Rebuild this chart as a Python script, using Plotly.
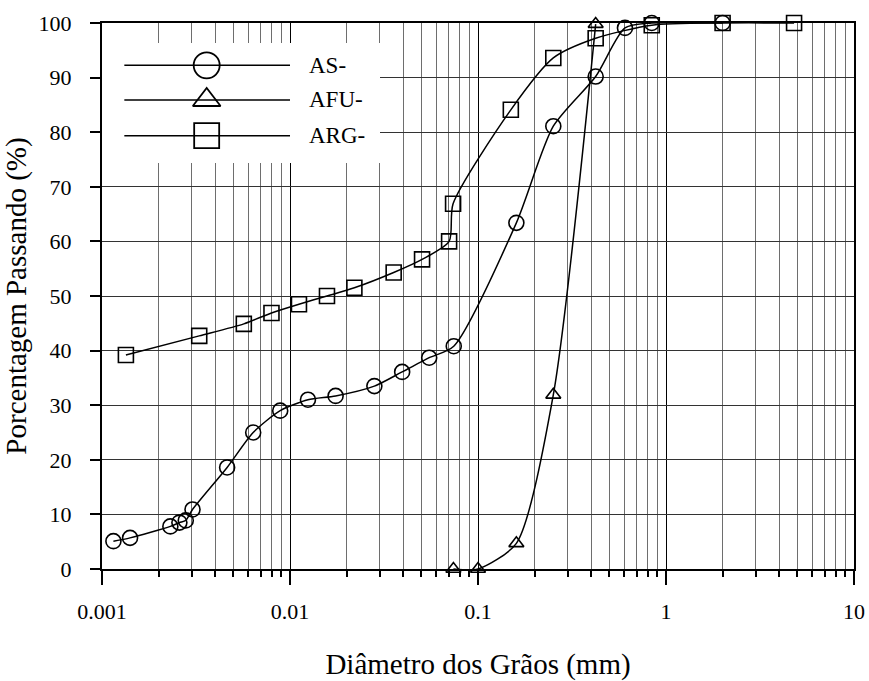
import plotly.graph_objects as go

# ---- data ----
AS_x = [0.00115, 0.00141, 0.00231, 0.00258, 0.00279, 0.00303, 0.00463, 0.00637, 0.00887,
        0.01246, 0.01748, 0.0281, 0.0395, 0.0550, 0.0743, 0.160, 0.2515, 0.4226, 0.605, 0.84, 2.0]
AS_y = [5.1, 5.7, 7.8, 8.5, 8.9, 10.9, 18.6, 25.0, 29.0, 31.0, 31.7, 33.5, 36.1, 38.7, 40.8,
        63.4, 81.1, 90.2, 99.1, 100, 100]

AFU_x = [0.074, 0.1, 0.16, 0.2515, 0.4226]
AFU_y = [0, 0, 4.7, 31.9, 99.8]

ARG_x = [0.00134, 0.00329, 0.00568, 0.00797, 0.01116, 0.01573, 0.022, 0.0356, 0.0504, 0.0702,
         0.0737, 0.1495, 0.2515, 0.4226, 0.84, 2.0, 4.8]
ARG_y = [39.2, 42.7, 44.9, 46.9, 48.5, 50.0, 51.5, 54.3, 56.7, 60.0, 66.9, 84.1, 93.6, 97.2,
         99.6, 100, 100]

series_names = ["AS-", "AFU-", "ARG-"]
series_symbols = ["circle-open", "triangle-up-open", "square-open"]
series_sizes = [15, 13, 15]
legend_sizes = [26, 24, 25]

x_tickvals = [0.001, 0.01, 0.1, 1, 10]
x_ticktext = ["0.001", "0.01", "0.1", "1", "10"]
x_minorvals = [k * 10 ** e for e in (-3, -2, -1, 0) for k in range(2, 10)]
y_tickvals = list(range(0, 101, 10))

FONT = "Liberation Serif"

fig = go.Figure()

data = [(AS_x, AS_y), (AFU_x, AFU_y), (ARG_x, ARG_y)]
for (xs, ys), name, sym, sz in zip(data, series_names, series_symbols, series_sizes):
    fig.add_trace(go.Scatter(
        x=xs, y=ys, mode="lines+markers", name=name, showlegend=False,
        line=dict(color="black", width=1.5, shape="spline", smoothing=0.7),
        marker=dict(symbol=sym, size=sz, color="black", line=dict(width=1.6)),
        cliponaxis=False,
    ))

# ---- manual legend (in plot-area fractions on an overlay axis) ----
leg_box_x = [0.0, 0.3697]
leg_box_y = [0.7436, 0.9634]
leg_rows = [0.9225, 0.859, 0.7936]
leg_line_x = [0.0297, 0.25]
leg_marker_x = 0.1392
leg_text_x = 0.273

fig.add_trace(go.Scatter(
    x=[leg_box_x[0], leg_box_x[1], leg_box_x[1], leg_box_x[0], leg_box_x[0]],
    y=[leg_box_y[0], leg_box_y[0], leg_box_y[1], leg_box_y[1], leg_box_y[0]],
    mode="lines", fill="toself", fillcolor="white", line=dict(width=0, color="white"),
    xaxis="x2", yaxis="y2", showlegend=False, hoverinfo="skip"))

for row, name, sym, sz in zip(leg_rows, series_names, series_symbols, legend_sizes):
    fig.add_trace(go.Scatter(
        x=leg_line_x, y=[row, row], mode="lines", xaxis="x2", yaxis="y2",
        line=dict(color="black", width=1.5), showlegend=False, hoverinfo="skip"))
    fig.add_trace(go.Scatter(
        x=[leg_marker_x], y=[row], mode="markers", xaxis="x2", yaxis="y2",
        marker=dict(symbol=sym, size=sz, color="black", line=dict(width=1.8)),
        showlegend=False, hoverinfo="skip"))
    fig.add_annotation(x=leg_text_x, y=row, xref="x domain", yref="y domain",
                       text=name, showarrow=False, xanchor="left", yanchor="middle",
                       font=dict(family=FONT, size=23, color="black"))

fig.update_layout(
    width=869, height=681,
    margin=dict(l=102, r=15, t=23, b=112),
    paper_bgcolor="white", plot_bgcolor="white",
    font=dict(family=FONT, size=22, color="black"),
    xaxis=dict(
        type="log", range=[-3, 1], automargin=False,
        tickmode="array", tickvals=x_tickvals, ticktext=x_ticktext,
        ticks="outside", ticklen=14, tickwidth=1.5, tickcolor="black",
        ticklabelstandoff=8,
        showgrid=True, gridcolor="black", gridwidth=1,
        showline=True, linecolor="black", linewidth=2, mirror=True,
        minor=dict(tickmode="array", tickvals=x_minorvals, ticks="outside", ticklen=6,
                   tickcolor="black", showgrid=True, gridcolor="#6e6e6e", gridwidth=1),
        title=dict(text="Diâmetro dos Grãos (mm)", font=dict(family=FONT, size=29),
                   standoff=30),
        zeroline=False,
    ),
    yaxis=dict(
        range=[0, 100], tickmode="array", tickvals=y_tickvals, automargin=False,
        ticks="outside", ticklen=10, tickwidth=1.5, tickcolor="black",
        ticklabelstandoff=14,
        showgrid=True, gridcolor="#333333", gridwidth=1,
        showline=True, linecolor="black", linewidth=2, mirror=True,
        title=dict(text="Porcentagem Passando (%)", font=dict(family=FONT, size=29),
                   standoff=6),
        zeroline=False,
    ),
    xaxis2=dict(overlaying="x", range=[0, 1], visible=False, anchor="y2", automargin=False),
    yaxis2=dict(overlaying="y", range=[0, 1], visible=False, anchor="x2", automargin=False),
)

fig.write_html("out.html")
